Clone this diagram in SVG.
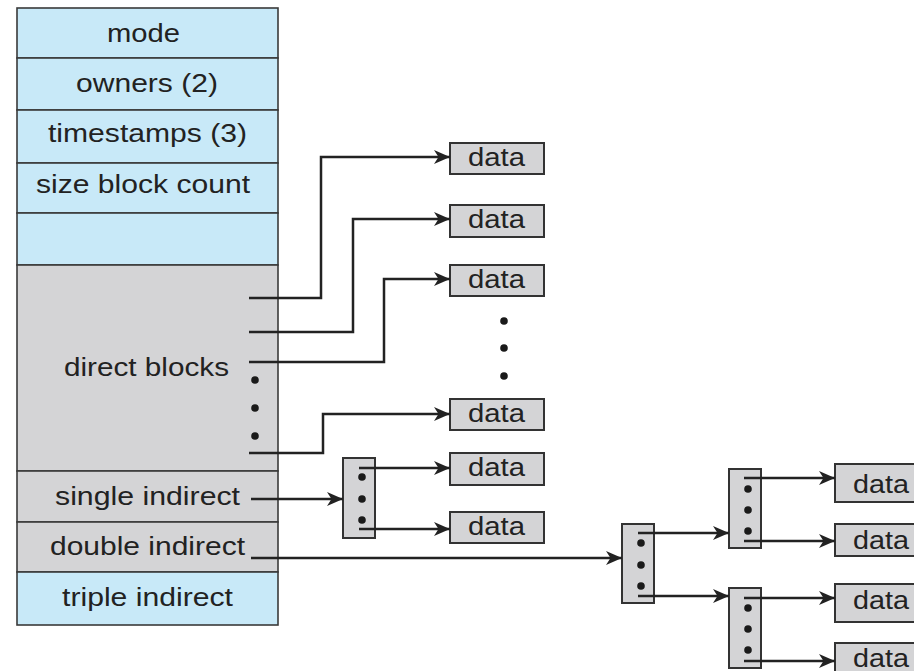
<svg xmlns="http://www.w3.org/2000/svg" width="914" height="671" viewBox="0 0 914 671">
<style>
.blue{fill:#c8e9f8;stroke:#3a3a3a;stroke-width:1.6}
.gray{fill:#d4d4d6;stroke:#3a3a3a;stroke-width:1.6}
.box{fill:#d4d4d6;stroke:#333;stroke-width:2}
.t{font-family:"Liberation Sans",Arial,sans-serif;font-size:25px;fill:#222;text-anchor:middle}
.tl{font-family:"Liberation Sans",Arial,sans-serif;font-size:25px;fill:#222}
.c{fill:none;stroke:#222;stroke-width:2.5}
.dot{fill:#1a1a1a}
</style>
<defs>
<marker id="ah" markerUnits="userSpaceOnUse" markerWidth="17" markerHeight="14" refX="16" refY="7" orient="auto">
<path d="M0,0 L16,7 L0,14 L4.5,7 z" fill="#222"/>
</marker>
</defs>
<rect width="914" height="671" fill="#fff"/>
<g id="inode">
<g id="row-mode"><rect class="blue" x="17" y="8" width="261" height="50"/><text class="t" x="143.5" y="42" textLength="73" lengthAdjust="spacingAndGlyphs">mode</text></g>
<g id="row-owners"><rect class="blue" x="17" y="58" width="261" height="52"/><text class="t" x="147" y="92" textLength="142" lengthAdjust="spacingAndGlyphs">owners (2)</text></g>
<g id="row-timestamps"><rect class="blue" x="17" y="110" width="261" height="53"/><text class="t" x="147.5" y="142" textLength="199" lengthAdjust="spacingAndGlyphs">timestamps (3)</text></g>
<g id="row-size"><rect class="blue" x="17" y="163" width="261" height="50"/><text class="t" x="143" y="193" textLength="214" lengthAdjust="spacingAndGlyphs">size block count</text></g>
<g id="row-empty"><rect class="blue" x="17" y="213" width="261" height="52"/></g>
<g id="row-direct"><rect class="gray" x="17" y="265" width="261" height="206"/><text class="t" x="146.5" y="376" textLength="165" lengthAdjust="spacingAndGlyphs">direct blocks</text>
<circle class="dot" cx="255" cy="380" r="3.8"/><circle class="dot" cx="255" cy="408" r="3.8"/><circle class="dot" cx="255" cy="436" r="3.8"/></g>
<g id="row-single"><rect class="gray" x="17" y="471" width="261" height="51"/><text class="t" x="147.5" y="505" textLength="185" lengthAdjust="spacingAndGlyphs">single indirect</text></g>
<g id="row-double"><rect class="gray" x="17" y="522" width="261" height="50"/><text class="t" x="147.5" y="555" textLength="195" lengthAdjust="spacingAndGlyphs">double indirect</text></g>
<g id="row-triple"><rect class="blue" x="17" y="572" width="261" height="53"/><text class="t" x="147.5" y="606" textLength="171" lengthAdjust="spacingAndGlyphs">triple indirect</text></g>
</g>
<g id="data-1"><rect class="box" x="450" y="143" width="94" height="31"/><text class="t" x="496.5" y="166" textLength="57" lengthAdjust="spacingAndGlyphs">data</text></g>
<g id="data-2"><rect class="box" x="450" y="205" width="94" height="32"/><text class="t" x="496.5" y="228" textLength="57" lengthAdjust="spacingAndGlyphs">data</text></g>
<g id="data-3"><rect class="box" x="450" y="265" width="94" height="31"/><text class="t" x="496.5" y="288" textLength="57" lengthAdjust="spacingAndGlyphs">data</text></g>
<g id="data-dots"><circle class="dot" cx="504" cy="321" r="3.8"/><circle class="dot" cx="504" cy="348" r="3.8"/><circle class="dot" cx="504" cy="376" r="3.8"/></g>
<g id="data-4"><rect class="box" x="450" y="399" width="94" height="31"/><text class="t" x="496.5" y="422" textLength="57" lengthAdjust="spacingAndGlyphs">data</text></g>
<g id="data-5"><rect class="box" x="450" y="453" width="94" height="32"/><text class="t" x="496.5" y="476" textLength="57" lengthAdjust="spacingAndGlyphs">data</text></g>
<g id="data-6"><rect class="box" x="450" y="512" width="94" height="31"/><text class="t" x="496.5" y="535" textLength="57" lengthAdjust="spacingAndGlyphs">data</text></g>
<g id="single-block"><rect class="box" x="343" y="458" width="32" height="80"/><circle class="dot" cx="362" cy="477" r="3.8"/><circle class="dot" cx="362" cy="499" r="3.8"/><circle class="dot" cx="362" cy="520" r="3.8"/></g>
<g id="double-block"><rect class="box" x="622" y="524" width="32" height="79"/><circle class="dot" cx="641" cy="543" r="3.8"/><circle class="dot" cx="641" cy="565" r="3.8"/><circle class="dot" cx="641" cy="586" r="3.8"/></g>
<g id="double-sub-1"><rect class="box" x="729" y="469" width="32" height="79"/><circle class="dot" cx="748" cy="489" r="3.8"/><circle class="dot" cx="748" cy="510" r="3.8"/><circle class="dot" cx="748" cy="531" r="3.8"/></g>
<g id="double-sub-2"><rect class="box" x="729" y="588" width="32" height="80"/><circle class="dot" cx="748" cy="608" r="3.8"/><circle class="dot" cx="748" cy="629" r="3.8"/><circle class="dot" cx="748" cy="650" r="3.8"/></g>
<g id="data-7"><rect class="box" x="835" y="464" width="100" height="38"/><text class="tl" x="853" y="493" textLength="56" lengthAdjust="spacingAndGlyphs">data</text></g>
<g id="data-8"><rect class="box" x="835" y="524" width="100" height="32"/><text class="tl" x="853" y="549" textLength="56" lengthAdjust="spacingAndGlyphs">data</text></g>
<g id="data-9"><rect class="box" x="835" y="584" width="100" height="38"/><text class="tl" x="853" y="609" textLength="56" lengthAdjust="spacingAndGlyphs">data</text></g>
<g id="data-10"><rect class="box" x="835" y="643" width="100" height="38"/><text class="tl" x="853" y="667" textLength="56" lengthAdjust="spacingAndGlyphs">data</text></g>
<g id="connectors">
<path class="c" d="M249,298 H321 V157 H450" marker-end="url(#ah)"/>
<path class="c" d="M249,332 H353 V219 H450" marker-end="url(#ah)"/>
<path class="c" d="M249,362 H384 V279 H450" marker-end="url(#ah)"/>
<path class="c" d="M249,453 H323 V414 H450" marker-end="url(#ah)"/>
<path class="c" d="M251,499 H343" marker-end="url(#ah)"/>
<path class="c" d="M359,468 H450" marker-end="url(#ah)"/>
<path class="c" d="M359,529 H450" marker-end="url(#ah)"/>
<path class="c" d="M251,558 H622" marker-end="url(#ah)"/>
<path class="c" d="M638,533 H729" marker-end="url(#ah)"/>
<path class="c" d="M638,596 H729" marker-end="url(#ah)"/>
<path class="c" d="M744,478 H835" marker-end="url(#ah)"/>
<path class="c" d="M744,541 H835" marker-end="url(#ah)"/>
<path class="c" d="M744,598 H835" marker-end="url(#ah)"/>
<path class="c" d="M744,661 H835" marker-end="url(#ah)"/>
</g>
</svg>
